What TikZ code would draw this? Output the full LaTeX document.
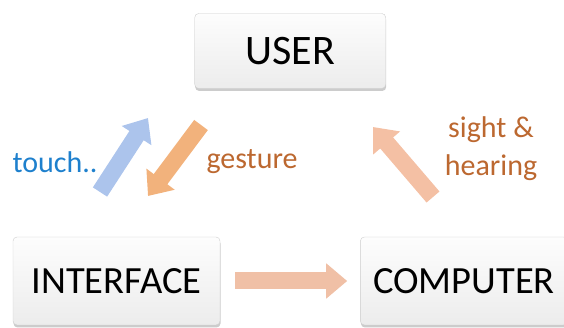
\documentclass[tikz,border=0pt]{standalone}
\usepackage{fontspec}
\setmainfont{Carlito}
\usepackage{tikz}
\usetikzlibrary{positioning,calc,arrows.meta,shadows}
\definecolor{boxedge}{RGB}{205,205,205}
\definecolor{boxtop}{RGB}{253,253,253}
\definecolor{boxbottom}{RGB}{236,236,236}
\definecolor{touchblue}{RGB}{172,196,236}
\definecolor{gestureorange}{RGB}{242,178,124}
\definecolor{sightpeach}{RGB}{244,192,164}
\definecolor{flowpeach}{RGB}{240,192,166}
\definecolor{labelblue}{RGB}{30,128,205}
\definecolor{labelbrown}{RGB}{188,104,48}

\begin{document}
\begin{tikzpicture}[
    node distance=140pt,
    box/.style={rectangle, draw=boxedge, top color=boxtop, bottom color=boxbottom, rounded corners=4pt,
                minimum width=207pt, minimum height=88pt, text centered, font=\fontsize{38.5}{44}\selectfont,
                drop shadow={opacity=0.4, shadow xshift=0.5pt, shadow yshift=-2.5pt}},
    arrowtext/.style={font=\fontsize{30}{38}\selectfont, align=center, inner sep=0pt},
    blockarrow/.style={line width=17pt, -{Triangle[length=21pt,width=34pt]}}
]
\useasboundingbox (0,0) rectangle (564pt,328pt);

\node[box] (interface) at (116.5pt,47pt) {INTERFACE};
\node[box, right=of interface] (computer) {COMPUTER};
\node[box, minimum width=191pt, minimum height=75pt, font=\fontsize{42}{48}\selectfont] (user)
    at ($(interface)!0.5!(computer)+(0,230pt)$) {USER};

\coordinate (touch-tail) at (100pt,136pt);
\coordinate (touch-tip) at (148pt,210pt);
\coordinate (gesture-tail) at (201pt,203pt);
\coordinate (gesture-tip) at (148pt,132pt);
\coordinate (sight-tail) at (433pt,131pt);
\coordinate (sight-tip) at (373pt,201pt);

\draw[blockarrow, touchblue] (touch-tail) -- (touch-tip);
\draw[blockarrow, gestureorange] (gesture-tail) -- (gesture-tip);
\draw[blockarrow, sightpeach] (sight-tail) -- (sight-tip);
\draw[blockarrow, flowpeach] ([xshift=15pt]interface.east) -- ([xshift=-13pt]computer.west);

\node[arrowtext, text=labelblue] (touch) at (55pt,166pt) {touch..};
\node[arrowtext, text=labelbrown] (gesture) at (252pt,166pt) {gesture};
\node[arrowtext, text=labelbrown] (sight) at (491pt,179pt) {sight \&\\hearing};

\end{tikzpicture}
\end{document}
